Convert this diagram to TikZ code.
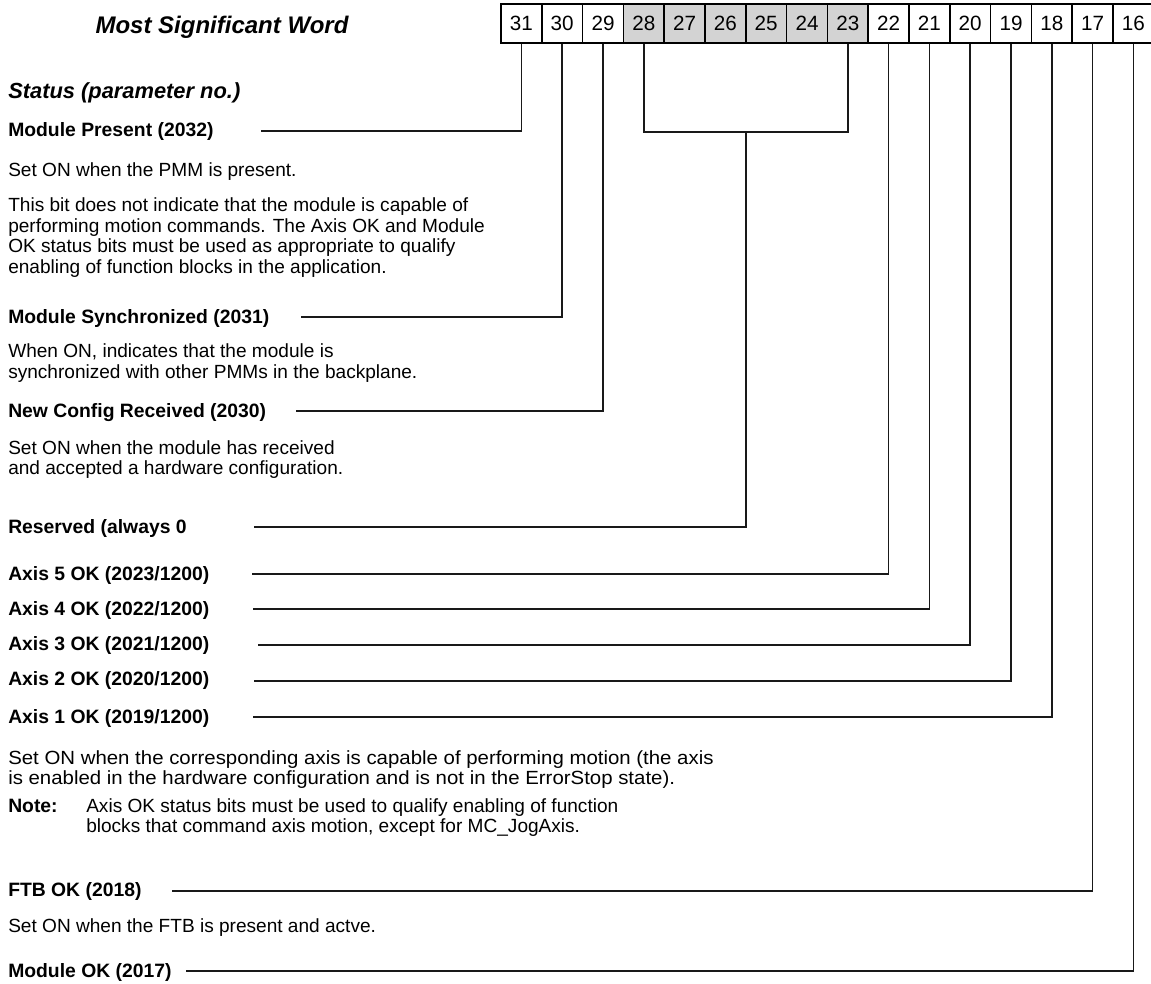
\documentclass[tikz,border=0pt]{standalone}
\usepackage{fontspec}
\setmainfont{Liberation Sans}
\newfontfamily\widesans[FakeStretch=1.07]{Liberation Sans}
\usetikzlibrary{calc}
\definecolor{boxgray}{HTML}{D3D3D3}
\begin{document}
\begin{tikzpicture}[x=0.75pt,y=-0.75pt,
  lbl/.style={anchor=base west,inner sep=0pt,font=\fontsize{14.5}{17}\selectfont\bfseries},
  txt/.style={anchor=base west,inner sep=0pt,font=\fontsize{14.3}{17}\selectfont},
  widetxt/.style={anchor=base west,inner sep=0pt,font=\widesans\fontsize{14.3}{17}\selectfont},
  head/.style={anchor=base west,inner sep=0pt,font=\fontsize{16.4}{19}\selectfont\bfseries\itshape},
  bitbox/.style={draw,line width=1.1pt,minimum width=30.6pt,minimum height=29.25pt,inner sep=0pt,font=\fontsize{15.5}{18}\selectfont},
  conn/.style={draw,line width=1.1pt,black!90}]
\useasboundingbox (0,0) rectangle (1151,983);

% bit boxes
\foreach \b [count=\i from 0] in {31,30,...,16}{
  \ifnum\b>22 \ifnum\b<29 \def\fc{boxgray}\else\def\fc{white}\fi\else\def\fc{white}\fi
  \node[bitbox,fill=\fc] (b\b) at ({501+40.8*(\i+0.5)},23.5) {\b};
}

% headings
\node[anchor=base,inner sep=0pt,font=\fontsize{18}{21}\selectfont\bfseries\itshape] (title) at (222,33) {Most Significant Word};
\node[head] (status) at (8,98) {Status (parameter no.)};

% labels and texts
\node[lbl] (l31) at (8,136) {Module Present (2032)};
\node[txt] (t31a) at (8,176) {Set ON when the PMM is present.};
\node[txt] (t31b) at (8,211) {This bit does not indicate that the module is capable of};
\node[txt] (t31c) at (8,232) {performing motion commands. The Axis OK and Module};
\node[txt] (t31d) at (8,252) {OK status bits must be used as appropriate to qualify};
\node[txt] (t31e) at (8,273) {enabling of function blocks in the application.};

\node[lbl] (l30) at (8,323) {Module Synchronized (2031)};
\node[txt] (t30a) at (8,357) {When ON, indicates that the module is};
\node[txt] (t30b) at (8,378) {synchronized with other PMMs in the backplane.};

\node[lbl] (l29) at (8,417) {New Config Received (2030)};
\node[txt] (t29a) at (8,454) {Set ON when the module has received};
\node[txt] (t29b) at (8,474) {and accepted a hardware configuration.};

\node[lbl] (lres) at (8,533) {Reserved (always 0};
\node[lbl] (l22) at (8,580) {Axis 5 OK (2023/1200)};
\node[lbl] (l21) at (8,615) {Axis 4 OK (2022/1200)};
\node[lbl] (l20) at (8,650) {Axis 3 OK (2021/1200)};
\node[lbl] (l19) at (8,685) {Axis 2 OK (2020/1200)};
\node[lbl] (l18) at (8,723) {Axis 1 OK (2019/1200)};
\node[widetxt] (t18a) at (8,764) {Set ON when the corresponding axis is capable of performing motion (the axis};
\node[widetxt] (t18b) at (8,784) {is enabled in the hardware configuration and is not in the ErrorStop state).};
\node[lbl] (note) at (8,812) {Note:};
\node[txt] (n1) at (86,812) {Axis OK status bits must be used to qualify enabling of function};
\node[txt] (n2) at (86,832) {blocks that command axis motion, except for MC\_JogAxis.};

\node[lbl] (l17) at (8,896) {FTB OK (2018)};
\node[txt] (t17a) at (8,932) {Set ON when the FTB is present and actve.};
\node[lbl] (l16) at (8,977) {Module OK (2017)};

% connector free ends
\coordinate (e31) at (261,131);
\coordinate (e30) at (301,317);
\coordinate (e29) at (296,411);
\coordinate (eres) at (254,527);
\coordinate (e22) at (252,574);
\coordinate (e21) at (253,609);
\coordinate (e20) at (258,645);
\coordinate (e19) at (254,681);
\coordinate (e18) at (253,717);
\coordinate (e17) at (172,891);
\coordinate (e16) at (186,971);
\coordinate (bry) at (0,132);

\draw[conn] (b31.south) |- (e31);
\draw[conn] (b30.south) |- (e30);
\draw[conn] (b29.south) |- (e29);
\draw[conn] (b28.south) -- (b28.south |- bry) -- (b23.south |- bry) -- (b23.south);
\draw[conn] ($(b28.south |- bry)!0.5!(b23.south |- bry)$) |- (eres);
\draw[conn] (b22.south) |- (e22);
\draw[conn] (b21.south) |- (e21);
\draw[conn] (b20.south) |- (e20);
\draw[conn] (b19.south) |- (e19);
\draw[conn] (b18.south) |- (e18);
\draw[conn] (b17.south) |- (e17);
\draw[conn] (b16.south) |- (e16);
\end{tikzpicture}
\end{document}
